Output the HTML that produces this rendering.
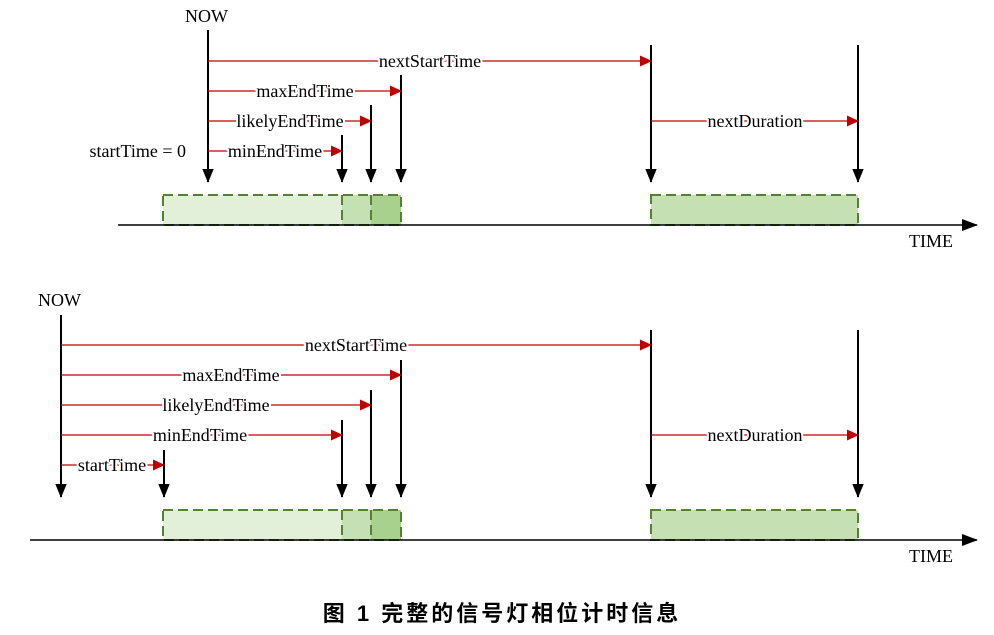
<!DOCTYPE html>
<html><head><meta charset="utf-8"><style>
html,body{margin:0;padding:0;background:#fff;}
svg{display:block;}
text{font-family:"Liberation Serif",serif;font-size:18px;fill:#000;}
.lab{paint-order:stroke;stroke:#fff;stroke-width:4px;}
.cap{font-family:"Liberation Sans","Noto Sans CJK SC",sans-serif;font-size:22px;font-weight:bold;letter-spacing:3px;}
</style></head><body>
<svg width="994" height="635" viewBox="0 0 994 635" xmlns="http://www.w3.org/2000/svg">
<defs>
<marker id="bk" markerWidth="14" markerHeight="17" refX="16" refY="7" orient="auto" markerUnits="userSpaceOnUse" viewBox="0 0 17 14"><path d="M0,0 L17,7 L0,14 Z" fill="#000"/></marker>
<marker id="rd" markerWidth="12" markerHeight="12" refX="11" refY="5.5" orient="auto" markerUnits="userSpaceOnUse"><path d="M0,0 L12,5.5 L0,11 Z" fill="#c00000"/></marker>
<marker id="ax" markerWidth="16" markerHeight="12" refX="15" refY="6" orient="auto" markerUnits="userSpaceOnUse"><path d="M0,0 L16,6 L0,12 Z" fill="#000"/></marker>
</defs>

<!-- TOP -->
<g>
<rect x="163" y="195" width="179" height="30" fill="#e2efd9"/>
<rect x="342" y="195" width="29" height="30" fill="#c5e0b3"/>
<rect x="371" y="195" width="30" height="30" fill="#a9d18e"/>
<rect x="651" y="195" width="207" height="30" fill="#c5e0b3"/>
<g fill="none" stroke="#548235" stroke-width="2" stroke-dasharray="10,5">
<rect x="163" y="195" width="238" height="30"/>
<line x1="342" y1="195" x2="342" y2="225"/><line x1="371" y1="195" x2="371" y2="225"/>
<rect x="651" y="195" width="207" height="30"/>
</g>
<line x1="118" y1="225" x2="977" y2="225" stroke="#000" stroke-width="1.5" marker-end="url(#ax)"/>
<text x="909" y="247">TIME</text>

<g stroke="#000" stroke-width="2">
<line x1="208" y1="30" x2="208" y2="182" marker-end="url(#bk)"/>
<line x1="342" y1="135" x2="342" y2="182" marker-end="url(#bk)"/>
<line x1="371" y1="105" x2="371" y2="182" marker-end="url(#bk)"/>
<line x1="401" y1="75" x2="401" y2="182" marker-end="url(#bk)"/>
<line x1="651" y1="45" x2="651" y2="182" marker-end="url(#bk)"/>
<line x1="858" y1="45" x2="858" y2="182" marker-end="url(#bk)"/>
</g>
<g stroke="#c00000" stroke-width="1.3">
<line x1="208" y1="61" x2="651" y2="61" marker-end="url(#rd)"/>
<line x1="208" y1="91" x2="401" y2="91" marker-end="url(#rd)"/>
<line x1="208" y1="121" x2="371" y2="121" marker-end="url(#rd)"/>
<line x1="208" y1="151" x2="342" y2="151" marker-end="url(#rd)"/>
<line x1="651" y1="121" x2="858" y2="121" marker-end="url(#rd)"/>
</g>
<text x="185" y="22">NOW</text>
<text class="lab" x="430" y="67" text-anchor="middle">nextStartTime</text>
<text class="lab" x="305" y="97" text-anchor="middle">maxEndTime</text>
<text class="lab" x="290" y="127" text-anchor="middle">likelyEndTime</text>
<text class="lab" x="275" y="157" text-anchor="middle">minEndTime</text>
<text class="lab" x="755" y="127" text-anchor="middle">nextDuration</text>
<text x="186" y="157" text-anchor="end">startTime = 0</text>
</g>

<!-- BOTTOM -->
<g>
<rect x="163" y="510" width="179" height="30" fill="#e2efd9"/>
<rect x="342" y="510" width="29" height="30" fill="#c5e0b3"/>
<rect x="371" y="510" width="30" height="30" fill="#a9d18e"/>
<rect x="651" y="510" width="207" height="30" fill="#c5e0b3"/>
<g fill="none" stroke="#548235" stroke-width="2" stroke-dasharray="10,5">
<rect x="163" y="510" width="238" height="30"/>
<line x1="342" y1="510" x2="342" y2="540"/><line x1="371" y1="510" x2="371" y2="540"/>
<rect x="651" y="510" width="207" height="30"/>
</g>
<line x1="30" y1="540" x2="977" y2="540" stroke="#000" stroke-width="1.5" marker-end="url(#ax)"/>
<text x="909" y="562">TIME</text>

<g stroke="#000" stroke-width="2">
<line x1="61" y1="315" x2="61" y2="497" marker-end="url(#bk)"/>
<line x1="164" y1="450" x2="164" y2="497" marker-end="url(#bk)"/>
<line x1="342" y1="420" x2="342" y2="497" marker-end="url(#bk)"/>
<line x1="371" y1="390" x2="371" y2="497" marker-end="url(#bk)"/>
<line x1="401" y1="360" x2="401" y2="497" marker-end="url(#bk)"/>
<line x1="651" y1="330" x2="651" y2="497" marker-end="url(#bk)"/>
<line x1="858" y1="330" x2="858" y2="497" marker-end="url(#bk)"/>
</g>
<g stroke="#c00000" stroke-width="1.3">
<line x1="61" y1="345" x2="651" y2="345" marker-end="url(#rd)"/>
<line x1="61" y1="375" x2="401" y2="375" marker-end="url(#rd)"/>
<line x1="61" y1="405" x2="371" y2="405" marker-end="url(#rd)"/>
<line x1="61" y1="435" x2="342" y2="435" marker-end="url(#rd)"/>
<line x1="61" y1="465" x2="164" y2="465" marker-end="url(#rd)"/>
<line x1="651" y1="435" x2="858" y2="435" marker-end="url(#rd)"/>
</g>
<text x="38" y="306">NOW</text>
<text class="lab" x="356" y="351" text-anchor="middle">nextStartTime</text>
<text class="lab" x="231" y="381" text-anchor="middle">maxEndTime</text>
<text class="lab" x="216" y="411" text-anchor="middle">likelyEndTime</text>
<text class="lab" x="200" y="441" text-anchor="middle">minEndTime</text>
<text class="lab" x="112" y="471" text-anchor="middle">startTime</text>
<text class="lab" x="755" y="441" text-anchor="middle">nextDuration</text>
</g>

<text class="cap" x="502" y="621" text-anchor="middle">图 1 完整的信号灯相位计时信息</text>
</svg>
</body></html>
